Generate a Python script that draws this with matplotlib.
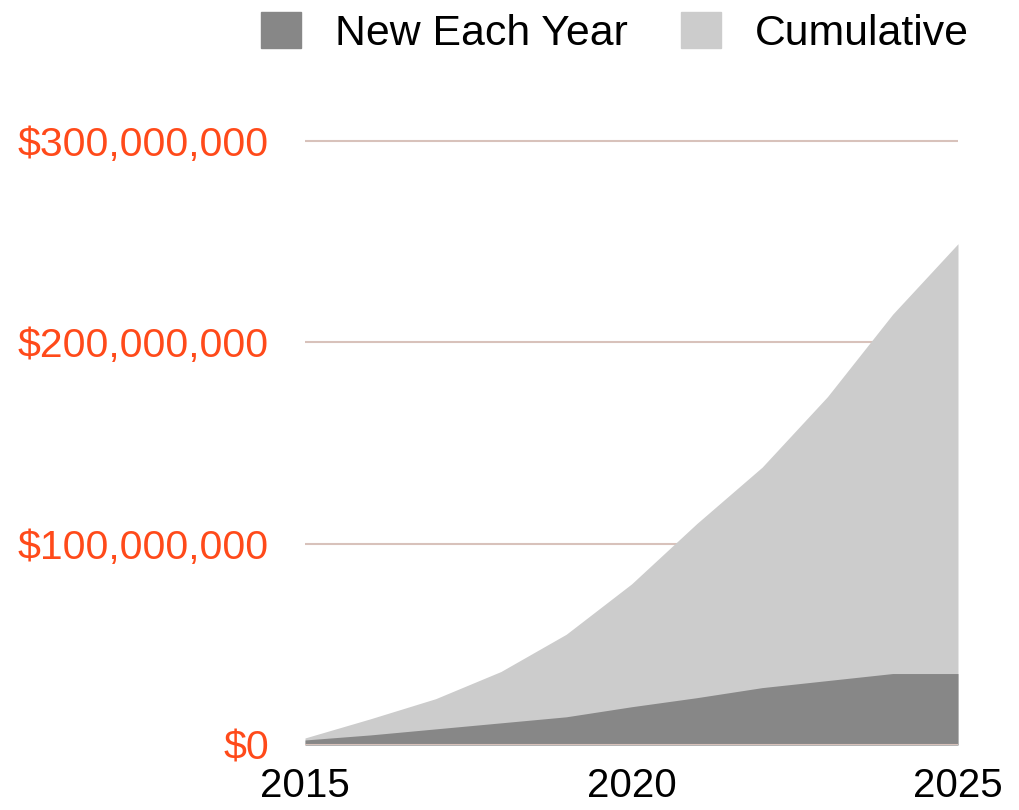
import matplotlib.pyplot as plt
from matplotlib.patches import Patch
from matplotlib.ticker import FuncFormatter

years = [2015, 2016, 2017, 2018, 2019, 2020, 2021, 2022, 2023, 2024, 2025]
new_each_year = [2.5e6, 5e6, 8e6, 11e6, 14e6, 19e6, 23.5e6, 28.5e6, 32e6, 35.5e6, 35.5e6]
cumulative = [3.5e6, 13e6, 23e6, 36.5e6, 55e6, 80e6, 110e6, 138e6, 173e6, 214e6, 249e6]

dark = '#878787'
light = '#cccccc'
orange = '#ff4a1a'
grid_col = '#d8c2bb'

plt.rcParams['font.family'] = ['Liberation Sans', 'DejaVu Sans']

fig = plt.figure(figsize=(10.19, 8.10), dpi=100)
# axes spans 2015..2025 horizontally and 0..310M vertically
ax = fig.add_axes([305 / 1019, 65 / 810, 653 / 1019, 624.1 / 810])

ax.fill_between(years, 0, cumulative, color=light, linewidth=0)
ax.fill_between(years, 0, new_each_year, color=dark, linewidth=0)

ax.set_xlim(2015, 2025)
ax.set_ylim(0, 310e6)
ax.set_xticks([2015, 2020, 2025])
ax.set_yticks([0, 100e6, 200e6, 300e6])
ax.yaxis.set_major_formatter(FuncFormatter(lambda v, p: '${:,.0f}'.format(v)))

for v in [100e6, 200e6, 300e6]:
    ax.axhline(v, color=grid_col, linewidth=1.5, zorder=0)
ax.axhline(0, color=grid_col, linewidth=1.5, zorder=3)

for s in ax.spines.values():
    s.set_visible(False)
ax.tick_params(axis='y', length=0, labelsize=29.5, colors=orange, pad=26)
ax.tick_params(axis='x', length=0, labelsize=29, colors='black', pad=16)

handles = [Patch(color=dark, label='New Each Year'),
           Patch(color=light, label='Cumulative')]
fig.legend(handles=handles, loc='upper right', bbox_to_anchor=(0.989, 1.033),
           ncol=2, frameon=False, fontsize=30.8, handlelength=0.93,
           handleheight=0.93, handletextpad=0.8, columnspacing=1.25)

fig.savefig('out.png', dpi=100)
